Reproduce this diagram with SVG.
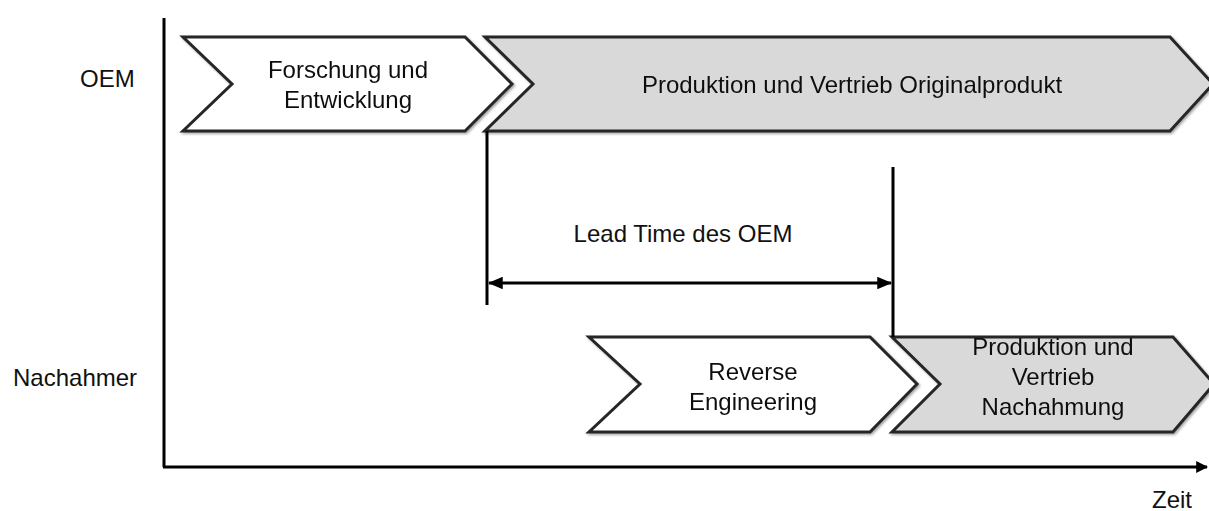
<svg xmlns="http://www.w3.org/2000/svg" width="1209" height="511" viewBox="0 0 1209 511">
  <style>
    .txt { font-family: "Liberation Sans", Arial, sans-serif; font-size: 24px; fill: #111; }
    .mid { text-anchor: middle; }
    .step { stroke: #262626; stroke-width: 3; stroke-linejoin: miter; }
    .white { fill: #ffffff; }
    .grey { fill: #d9d9d9; }
    .line { stroke: #000; stroke-width: 3; fill: none; }
  </style>
  <defs>
    <marker id="head" viewBox="0 0 10 10" refX="9" refY="5" markerWidth="4" markerHeight="4" orient="auto-start-reverse" markerUnits="strokeWidth">
      <path d="M0,0 L10,5 L0,10 z" fill="#000"/>
    </marker>
    <marker id="head-span" viewBox="0 0 12 10" refX="11" refY="5" markerWidth="5" markerHeight="4.2" orient="auto-start-reverse" markerUnits="strokeWidth">
      <path d="M0,0 L12,5 L0,10 z" fill="#000"/>
    </marker>
    <filter id="shadow" x="-5%" y="-10%" width="110%" height="130%">
      <feDropShadow dx="1.5" dy="1.5" stdDeviation="0.8" flood-color="#000" flood-opacity="0.35"/>
    </filter>
  </defs>

  <rect width="1209" height="511" fill="#ffffff"/>

  <!-- row labels -->
  <text class="txt" x="80" y="87">OEM</text>
  <text class="txt" x="13" y="386">Nachahmer</text>
  <text class="txt" x="1152" y="508">Zeit</text>

  <!-- time axes -->
  <g id="axes">
    <line class="line" x1="164" y1="18" x2="164" y2="467"/>
    <line class="line" x1="163" y1="467" x2="1207" y2="467" marker-end="url(#head)"/>
  </g>

  <!-- OEM phases -->
  <g id="oem-research" filter="url(#shadow)">
    <polygon class="step white" points="183,37 465,37 512,84 465,131 183,131 232,84"/>
    <text class="txt mid" x="348" y="78">Forschung und</text>
    <text class="txt mid" x="348" y="108">Entwicklung</text>
  </g>
  <g id="oem-production" filter="url(#shadow)">
    <polygon class="step grey" points="485,37 1170,37 1213,84 1170,131 485,131 533,84"/>
    <text class="txt mid" x="852" y="93">Produktion und Vertrieb Originalprodukt</text>
  </g>

  <!-- imitator phases -->
  <g id="imitator-reverse" filter="url(#shadow)">
    <polygon class="step white" points="589,337 870,337 917,384 870,432 589,432 640,384"/>
    <text class="txt mid" x="753" y="380">Reverse</text>
    <text class="txt mid" x="753" y="410">Engineering</text>
  </g>
  <g id="imitator-production" filter="url(#shadow)">
    <polygon class="step grey" points="892,337 1173,337 1214,384 1173,432 892,432 940,384"/>
    <text class="txt mid" x="1053" y="355">Produktion und</text>
    <text class="txt mid" x="1053" y="385">Vertrieb</text>
    <text class="txt mid" x="1053" y="415">Nachahmung</text>
  </g>

  <!-- lead time span -->
  <g id="connectors">
    <line class="line" x1="487" y1="131" x2="487" y2="305"/>
    <line class="line" x1="893" y1="167" x2="893" y2="337"/>
    <line class="line" x1="489" y1="283" x2="891" y2="283" stroke-width="2.5" marker-start="url(#head-span)" marker-end="url(#head-span)"/>
  </g>
  <text id="lead-time" class="txt mid" x="683" y="242">Lead Time des OEM</text>
</svg>
